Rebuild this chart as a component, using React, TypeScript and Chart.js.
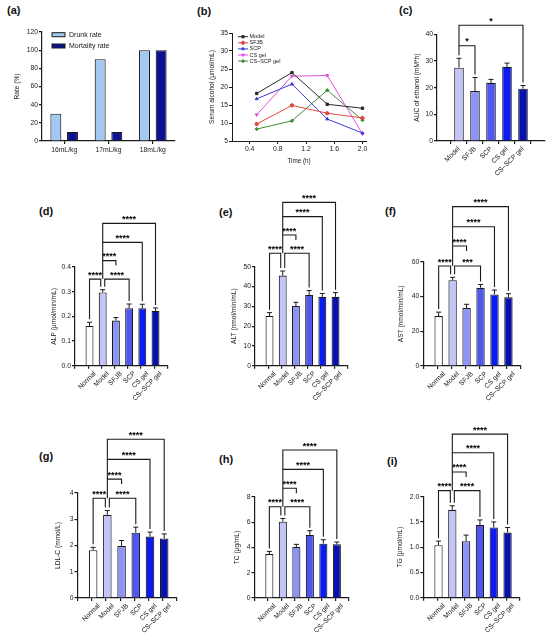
import { useEffect, useRef } from 'react';
import { Chart, registerables } from 'chart.js';
import type { ChartConfiguration, Plugin } from 'chart.js';
import { drawPoint } from 'chart.js/helpers';

const FONT = '"Liberation Sans", Arial, Helvetica, sans-serif';
const INK = '#1a1a1a';

// (a) drunk and mortality rate by dose
const doses = ['16mL/kg', '17mL/kg', '18mL/kg'];
const drunkRate = [30, 90, 100];
const mortalityRate = [10, 10, 100];

// (b) serum alcohol over time
const times = [0.5, 1.0, 1.5, 2.0];
const alcoholModel = [18.2, 24.0, 15.2, 14.1];
const alcoholSFJB = [9.7, 14.9, 12.7, 11.4];
const alcoholSCP = [16.7, 20.8, 11.1, 7.2];
const alcoholCSgel = [12.3, 23.0, 23.2, 7.0];
const alcoholCSSCPgel = [8.3, 10.6, 19.1, 10.8];
const lineNames = ['Model', 'SFJB', 'SCP', 'CS gel', 'CS\u2013SCP gel'];

// (c) AUC of ethanol
const aucGroups = ['Model', 'SFJB', 'SCP', 'CS gel', 'CS\u2013SCP gel'];
const aucMean = [27.5, 18.7, 21.8, 27.8, 19.6];
const aucSem = [3.5, 5.1, 1.3, 1.4, 1.2];
const aucPairs = [[0, 1], [0, 4]];
const aucPairY = [35.7, 43.4];
const aucStars = ['*', '*'];

// (d)-(i) serum biochemistry
const groups = ['Normal', 'Model', 'SFJB', 'SCP', 'CS gel', 'CS\u2013SCP gel'];
const pairs = [[0, 1], [1, 3], [1, 2], [1, 4], [1, 5]];

const alpMean = [0.161, 0.297, 0.183, 0.233, 0.233, 0.222];
const alpSem = [0.015, 0.011, 0.012, 0.017, 0.016, 0.012];
const alpPairY = [0.351, 0.351, 0.426, 0.5, 0.577];
const alpStars = ['****', '****', '****', '****', '****'];

const altMean = [25.1, 45.5, 30.1, 35.7, 34.8, 34.8];
const altSem = [1.7, 2.3, 1.9, 2.3, 1.7, 2.1];
const altPairY = [56.8, 56.8, 66.0, 75.3, 82.5];
const altStars = ['****', '****', '****', '****', '****'];

const astMean = [28.7, 49.4, 33.3, 45.0, 41.2, 39.5];
const astSem = [2.3, 1.6, 2.2, 1.9, 2.5, 2.1];
const astPairY = [57.5, 57.5, 69.0, 80.1, 91.7];
const astStars = ['****', '***', '****', '****', '****'];

const ldlMean = [1.82, 3.17, 1.98, 2.49, 2.34, 2.27];
const ldlSem = [0.11, 0.16, 0.21, 0.21, 0.17, 0.17];
const ldlPairY = [3.8, 3.8, 4.53, 5.28, 6.05];
const ldlStars = ['****', '****', '****', '****', '****'];

const tcMean = [3.48, 6.04, 4.04, 4.99, 4.3, 4.25];
const tcSem = [0.21, 0.26, 0.21, 0.34, 0.32, 0.18];
const tcPairY = [7.23, 7.23, 8.69, 10.19, 11.72];
const tcStars = ['****', '****', '****', '****', '****'];

const tgMean = [1.04, 1.74, 1.12, 1.44, 1.39, 1.29];
const tgSem = [0.08, 0.08, 0.12, 0.1, 0.11, 0.1];
const tgPairY = [2.12, 2.12, 2.49, 2.87, 3.24];
const tgStars = ['****', '****', '****', '****', '****'];

const groupColors = ['#ffffff', '#c3c5f8', '#8d92f5', '#4f57ee', '#0c1bf2', '#0810ad'];

Chart.register(...registerables);

// upper SEM whiskers
const semPlugin: Plugin = {
  id: 'semBars',
  afterDatasetsDraw(chart, _args, o: any) {
    if (!o || !o.sems) return;
    const { ctx } = chart;
    const y = chart.scales.y;
    const data = chart.data.datasets[0].data as any[];
    const meta = chart.getDatasetMeta(0);
    ctx.save();
    ctx.strokeStyle = INK;
    ctx.lineWidth = 1;
    meta.data.forEach((bar: any, i) => {
      const top = y.getPixelForValue(data[i].y);
      const cap = y.getPixelForValue(data[i].y + o.sems[i]);
      ctx.beginPath();
      ctx.moveTo(bar.x, top);
      ctx.lineTo(bar.x, cap);
      ctx.moveTo(bar.x - 2.5, cap);
      ctx.lineTo(bar.x + 2.5, cap);
      ctx.stroke();
    });
    ctx.restore();
  },
};

// significance brackets
const bracketPlugin: Plugin = {
  id: 'sigBrackets',
  afterDraw(chart, _args, o: any) {
    if (!o || !o.pairs) return;
    const { ctx } = chart;
    const x = chart.scales.x;
    const y = chart.scales.y;
    const data = chart.data.datasets[0].data as any[];
    const prs: number[][] = o.pairs;
    const lv: number[] = o.levels;
    const px = (k: number) => x.getPixelForValue(k + 1);
    ctx.save();
    ctx.strokeStyle = INK;
    ctx.fillStyle = '#000';
    ctx.lineWidth = 1.1;
    ctx.font = `bold 9px ${FONT}`;
    ctx.textAlign = 'center';
    ctx.textBaseline = 'alphabetic';
    prs.forEach(([a, b], n) => {
      const level = lv[n];
      const yl = y.getPixelForValue(level);
      const shared = (k: number) =>
        prs.some(([c, d], m) => m !== n && lv[m] === level && (c === k || d === k));
      const legEnd = (k: number) => {
        const below = prs.map(([c, d], m) => (lv[m] < level && (c === k || d === k) ? lv[m] : -Infinity));
        const best = Math.max(...below);
        if (best > -Infinity) return y.getPixelForValue(best);
        if (prs.some(([c, d], m) => lv[m] < level && c < k && k < d)) return yl + 5;
        return y.getPixelForValue(data[k].y + o.sems[k]) - 3;
      };
      const xa = px(a) + (shared(a) ? 2 : 0);
      const xb = px(b) - (shared(b) ? 2 : 0);
      ctx.beginPath();
      ctx.moveTo(xa, legEnd(a));
      ctx.lineTo(xa, yl);
      ctx.lineTo(xb, yl);
      ctx.lineTo(xb, legEnd(b));
      ctx.stroke();
      ctx.fillText(o.labels[n], (xa + xb) / 2, yl - 1.5);
    });
    ctx.restore();
  },
};

// small inset legends
const keyPlugin: Plugin = {
  id: 'panelKey',
  afterDraw(chart, _args, o: any) {
    if (!o || o.x === undefined) return;
    const { ctx } = chart;
    ctx.save();
    ctx.font = `${o.size}px ${FONT}`;
    ctx.textBaseline = 'middle';
    ctx.textAlign = 'left';
    chart.data.datasets.forEach((ds: any, i) => {
      const yy = o.y + i * o.row;
      if (o.kind === 'box') {
        ctx.fillStyle = ds.backgroundColor;
        ctx.strokeStyle = INK;
        ctx.lineWidth = 1;
        ctx.fillRect(o.x, yy - 2, 13, 4);
        ctx.strokeRect(o.x, yy - 2, 13, 4);
      } else {
        ctx.strokeStyle = ds.borderColor;
        ctx.lineWidth = 1;
        ctx.beginPath();
        ctx.moveTo(o.x, yy);
        ctx.lineTo(o.x + 10, yy);
        ctx.stroke();
        ctx.fillStyle = ds.borderColor;
        drawPoint(ctx, { pointStyle: ds.pointStyle, radius: 1.6, rotation: ds.pointRotation || 0, borderWidth: 1 } as any, o.x + 5, yy);
      }
      ctx.fillStyle = INK;
      ctx.fillText(ds.label, o.x + o.textDx, yy);
    });
    ctx.restore();
  },
};

Chart.register(semPlugin, bracketPlugin, keyPlugin);

type Box = { x: number; y: number; w: number; h: number; L: number; T: number; R: number; B: number; titleX: number };

const boxA: Box = { x: 0, y: 20, w: 182, h: 160, L: 42, T: 32, R: 175, B: 141, titleX: 17 };
const boxB: Box = { x: 185, y: 20, w: 187, h: 152, L: 232, T: 33, R: 366, B: 141, titleX: 212 };
const boxC: Box = { x: 375, y: 10, w: 175, h: 195, L: 437, T: 34.3, R: 545, B: 141, titleX: 417 };
const boxD: Box = { x: 0, y: 200, w: 180, h: 210, L: 75, T: 267, R: 167.4, B: 365.7, titleX: 54 };
const boxE: Box = { x: 180, y: 193, w: 185, h: 217, L: 255, T: 266.7, R: 347.4, B: 365.7, titleX: 234 };
const boxF: Box = { x: 365, y: 193, w: 185, h: 217, L: 423.3, T: 261.7, R: 521, B: 366, titleX: 401.5 };
const boxG: Box = { x: 0, y: 420, w: 185, h: 220, L: 77.5, T: 493, R: 177, B: 598, titleX: 58 };
const boxH: Box = { x: 185, y: 420, w: 180, h: 220, L: 254.5, T: 497, R: 349, B: 598, titleX: 237 };
const boxI: Box = { x: 365, y: 420, w: 185, h: 220, L: 423.3, T: 496.7, R: 520, B: 597.7, titleX: 400 };

const TICK = 6.8;

function pad(box: Box) {
  return { padding: { left: 0, top: box.T - box.y, right: box.x + box.w - box.R, bottom: 0 } };
}

const lineStyle = { drawOnChartArea: false, drawTicks: true, tickLength: 3, color: INK, lineWidth: 1.2 };
const borderStyle = { display: true, color: INK, width: 1.2 };

function yAxis(box: Box, min: number, max: number, step: number, digits: number, title: string) {
  return {
    type: 'linear',
    min,
    max,
    afterFit: (s: any) => {
      s.width = box.L - box.x;
    },
    ticks: {
      stepSize: step,
      font: { family: FONT, size: TICK },
      color: INK,
      padding: 1,
      callback: (v: any) => Number(v).toFixed(digits),
    },
    grid: lineStyle,
    border: borderStyle,
    title: {
      display: true,
      text: title,
      font: { family: FONT, size: 6.6 },
      color: INK,
      padding: { top: box.titleX - box.x - 4, bottom: 0 },
    },
  };
}

function groupAxis(box: Box, cats: string[], min: number, max: number) {
  return {
    type: 'linear',
    min,
    max,
    afterFit: (s: any) => {
      s.height = box.y + box.h - box.B;
    },
    ticks: {
      stepSize: 1,
      includeBounds: false,
      autoSkip: false,
      minRotation: 45,
      maxRotation: 45,
      font: { family: FONT, size: TICK },
      color: INK,
      padding: 1,
      callback: (v: any) => cats[Math.round(Number(v)) - 1] ?? '',
    },
    grid: lineStyle,
    border: borderStyle,
  };
}

type BarSpec = {
  cats: string[];
  means: number[];
  sems: number[];
  colors: string[];
  xMin: number;
  xMax: number;
  yMax: number;
  yStep: number;
  digits: number;
  title: string;
  pairList: number[][];
  levels: number[];
  stars: string[];
};

function barConfig(box: Box, s: BarSpec): ChartConfiguration {
  return {
    type: 'bar',
    data: {
      datasets: [
        {
          data: s.means.map((v, i) => ({ x: i + 1, y: v })),
          backgroundColor: s.colors,
          borderColor: INK,
          borderWidth: 1.1,
          categoryPercentage: 1,
          barPercentage: 0.6,
        },
      ],
    },
    options: {
      responsive: false,
      animation: false,
      layout: pad(box),
      plugins: {
        legend: { display: false },
        tooltip: { enabled: false },
        semBars: { sems: s.sems },
        sigBrackets: { pairs: s.pairList, levels: s.levels, labels: s.stars, sems: s.sems },
      },
      scales: {
        x: groupAxis(box, s.cats, s.xMin, s.xMax),
        y: yAxis(box, 0, s.yMax, s.yStep, s.digits, s.title),
      },
    } as any,
  } as any;
}

function rateConfig(): ChartConfiguration {
  const box = boxA;
  return {
    type: 'bar',
    data: {
      labels: doses,
      datasets: [
        { label: 'Drunk rate', data: drunkRate, backgroundColor: '#a3c8f2', borderColor: INK, borderWidth: 1.1, categoryPercentage: 0.75, barPercentage: 0.66 },
        { label: 'Mortality rate', data: mortalityRate, backgroundColor: '#0c128f', borderColor: INK, borderWidth: 1.1, categoryPercentage: 0.75, barPercentage: 0.66 },
      ],
    },
    options: {
      responsive: false,
      animation: false,
      layout: pad(box),
      plugins: {
        legend: { display: false },
        tooltip: { enabled: false },
        panelKey: { x: 52 - box.x, y: 34.7 - box.y, row: 11.3, kind: 'box', size: 7, textDx: 17 },
      },
      scales: {
        x: {
          type: 'category',
          offset: true,
          afterFit: (s: any) => {
            s.height = box.y + box.h - box.B;
          },
          ticks: { maxRotation: 0, minRotation: 0, font: { family: FONT, size: TICK }, color: INK, padding: 2 },
          grid: { ...lineStyle, offset: false },
          border: borderStyle,
        },
        y: yAxis(box, 0, 120, 20, 0, 'Rate (%)'),
      },
    } as any,
  } as any;
}

function alcoholConfig(): ChartConfiguration {
  const box = boxB;
  const series = [alcoholModel, alcoholSFJB, alcoholSCP, alcoholCSgel, alcoholCSSCPgel];
  const colors = ['#2b2b2b', '#e2473f', '#3a3ad8', '#e34fe3', '#3a8f3a'];
  const shapes = ['rect', 'circle', 'triangle', 'triangle', 'rectRot'];
  const turns = [0, 0, 0, 180, 0];
  return {
    type: 'line',
    data: {
      datasets: series.map((vals, k) => ({
        label: lineNames[k],
        data: times.map((t, i) => ({ x: t, y: vals[i] })),
        borderColor: colors[k],
        backgroundColor: colors[k],
        pointBackgroundColor: colors[k],
        pointStyle: shapes[k],
        pointRotation: turns[k],
        pointRadius: 1.7,
        pointBorderWidth: 1,
        borderWidth: 1,
        tension: 0,
        fill: false,
      })),
    },
    options: {
      responsive: false,
      animation: false,
      layout: pad(box),
      plugins: {
        legend: { display: false },
        tooltip: { enabled: false },
        panelKey: { x: 238 - box.x, y: 36.7 - box.y, row: 6.1, kind: 'line', size: 5.5, textDx: 11.5 },
      },
      scales: {
        x: {
          type: 'linear',
          min: 0.15,
          max: 2.05,
          afterFit: (s: any) => {
            s.height = box.y + box.h - box.B;
          },
          ticks: {
            stepSize: 0.4,
            includeBounds: false,
            font: { family: FONT, size: TICK },
            color: INK,
            padding: 1,
            callback: (v: any) => Number(v).toFixed(1),
          },
          grid: { ...lineStyle, lineWidth: 1 },
          border: { ...borderStyle, width: 1 },
          title: { display: true, text: 'Time (h)', font: { family: FONT, size: 6.3 }, color: INK, padding: { top: 0, bottom: 6.5 } },
        },
        y: { ...yAxis(box, 5, 35, 5, 0, 'Serum alcohol (\u03bcmol/mL)'), grid: { ...lineStyle, lineWidth: 1 }, border: { ...borderStyle, width: 1 } },
      },
    } as any,
  } as any;
}

const panels: { id: string; box: Box; make: () => ChartConfiguration }[] = [
  { id: 'a', box: boxA, make: rateConfig },
  { id: 'b', box: boxB, make: alcoholConfig },
  {
    id: 'c',
    box: boxC,
    make: () =>
      barConfig(boxC, {
        cats: aucGroups, means: aucMean, sems: aucSem, colors: groupColors.slice(1),
        xMin: 0.3, xMax: 5.7, yMax: 40, yStep: 10, digits: 0, title: 'AUC of ethanol (mM*h)',
        pairList: aucPairs, levels: aucPairY, stars: aucStars,
      }),
  },
  {
    id: 'd',
    box: boxD,
    make: () =>
      barConfig(boxD, {
        cats: groups, means: alpMean, sems: alpSem, colors: groupColors,
        xMin: 0.4, xMax: 6.4, yMax: 0.4, yStep: 0.1, digits: 1, title: 'ALP (\u03bcmol/min/mL)',
        pairList: pairs, levels: alpPairY, stars: alpStars,
      }),
  },
  {
    id: 'e',
    box: boxE,
    make: () =>
      barConfig(boxE, {
        cats: groups, means: altMean, sems: altSem, colors: groupColors,
        xMin: 0.4, xMax: 6.4, yMax: 50, yStep: 10, digits: 0, title: 'ALT (nmol/min/mL)',
        pairList: pairs, levels: altPairY, stars: altStars,
      }),
  },
  {
    id: 'f',
    box: boxF,
    make: () =>
      barConfig(boxF, {
        cats: groups, means: astMean, sems: astSem, colors: groupColors,
        xMin: 0.4, xMax: 6.4, yMax: 60, yStep: 20, digits: 0, title: 'AST (nmol/min/mL)',
        pairList: pairs, levels: astPairY, stars: astStars,
      }),
  },
  {
    id: 'g',
    box: boxG,
    make: () =>
      barConfig(boxG, {
        cats: groups, means: ldlMean, sems: ldlSem, colors: groupColors,
        xMin: 0.4, xMax: 6.4, yMax: 4, yStep: 1, digits: 0, title: 'LDL-C (mmol/L)',
        pairList: pairs, levels: ldlPairY, stars: ldlStars,
      }),
  },
  {
    id: 'h',
    box: boxH,
    make: () =>
      barConfig(boxH, {
        cats: groups, means: tcMean, sems: tcSem, colors: groupColors,
        xMin: 0.4, xMax: 6.4, yMax: 8, yStep: 2, digits: 0, title: 'TC (\u03bcg/mL)',
        pairList: pairs, levels: tcPairY, stars: tcStars,
      }),
  },
  {
    id: 'i',
    box: boxI,
    make: () =>
      barConfig(boxI, {
        cats: groups, means: tgMean, sems: tgSem, colors: groupColors,
        xMin: 0.4, xMax: 6.4, yMax: 2, yStep: 0.5, digits: 1, title: 'TG (\u03bcmol/mL)',
        pairList: pairs, levels: tgPairY, stars: tgStars,
      }),
  },
];

// panel letters: [text, left, vertical centre]
const tags: [string, number, number][] = [
  ['(a)', 7, 10],
  ['(b)', 197, 11],
  ['(c)', 399, 10],
  ['(d)', 39, 211.7],
  ['(e)', 219, 212],
  ['(f)', 385, 211],
  ['(g)', 39, 456.7],
  ['(h)', 219, 459],
  ['(i)', 387, 461.7],
];

function Panel({ box, make }: { box: Box; make: () => ChartConfiguration }) {
  const canvasRef = useRef<HTMLCanvasElement>(null);

  useEffect(() => {
    if (!canvasRef.current) return;
    const chart = new Chart(canvasRef.current, make());
    return () => chart.destroy();
  }, [make]);

  return (
    <canvas
      ref={canvasRef}
      width={box.w}
      height={box.h}
      style={{ position: 'absolute', left: box.x, top: box.y, width: box.w, height: box.h }}
    />
  );
}

export default function App() {
  return (
    <div style={{ position: 'absolute', left: 0, top: 0, width: 550, height: 640, background: '#fff', overflow: 'hidden' }}>
      {tags.map(([t, left, cy]) => (
        <div
          key={t}
          style={{ position: 'absolute', left, top: cy - 6.5, font: `bold 11px ${FONT}`, lineHeight: '13px', color: '#111' }}
        >
          {t}
        </div>
      ))}
      {panels.map((p) => (
        <Panel key={p.id} box={p.box} make={p.make} />
      ))}
    </div>
  );
}
